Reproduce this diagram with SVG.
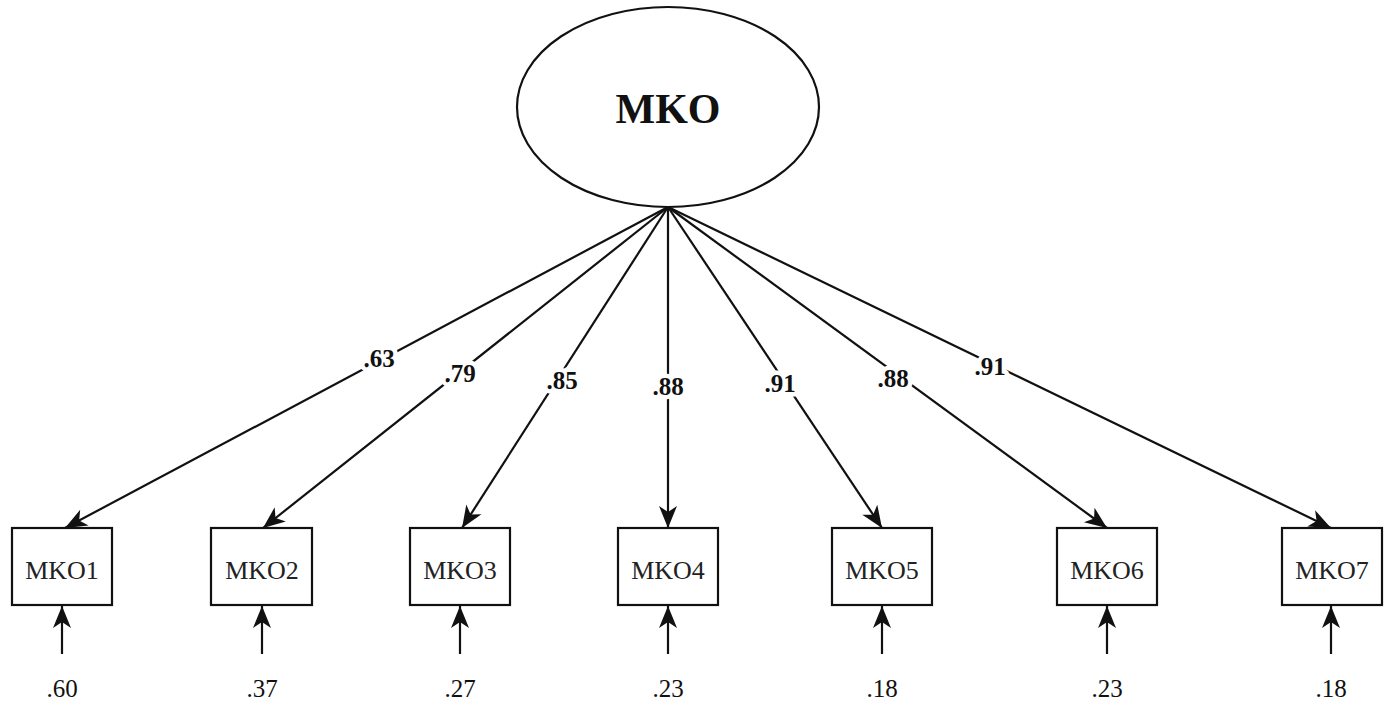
<svg xmlns="http://www.w3.org/2000/svg" width="1387" height="705" viewBox="0 0 1387 705">
<style>
.node{fill:#fff;stroke:#111;stroke-width:2.2}
.conn{stroke:#111;stroke-width:2.2;fill:none}
.lat{font-family:"Liberation Serif",serif;font-weight:bold;font-size:42px;fill:#111;text-anchor:middle}
.obs{font-family:"Liberation Serif",serif;font-size:26px;fill:#222;text-anchor:middle}
.load{font-family:"Liberation Serif",serif;font-weight:bold;font-size:25px;fill:#111;text-anchor:middle;stroke:#fff;stroke-width:9;paint-order:stroke;stroke-linejoin:round}
.err{font-family:"Liberation Serif",serif;font-size:25px;fill:#111;text-anchor:middle}
</style>
<defs>
<marker id="ah" markerUnits="userSpaceOnUse" viewBox="-1 -10 24 20" markerWidth="24" markerHeight="20" refX="22" refY="0" orient="auto">
<path d="M0,-9 L22,0 L0,9 L6,0 Z" fill="#111"/>
</marker>
</defs>
<rect width="1387" height="705" fill="#fff"/>
<g id="connectors">
<line class="conn" x1="668" y1="207" x2="65" y2="528" marker-end="url(#ah)"/>
<line class="conn" x1="668" y1="207" x2="263" y2="528" marker-end="url(#ah)"/>
<line class="conn" x1="668" y1="207" x2="462" y2="528" marker-end="url(#ah)"/>
<line class="conn" x1="668" y1="207" x2="668" y2="528" marker-end="url(#ah)"/>
<line class="conn" x1="668" y1="207" x2="882" y2="528" marker-end="url(#ah)"/>
<line class="conn" x1="668" y1="207" x2="1107" y2="528" marker-end="url(#ah)"/>
<line class="conn" x1="668" y1="207" x2="1331" y2="528" marker-end="url(#ah)"/>
<line class="conn" x1="62" y1="654" x2="62" y2="606" marker-end="url(#ah)"/>
<line class="conn" x1="262" y1="654" x2="262" y2="606" marker-end="url(#ah)"/>
<line class="conn" x1="460" y1="654" x2="460" y2="606" marker-end="url(#ah)"/>
<line class="conn" x1="668" y1="654" x2="668" y2="606" marker-end="url(#ah)"/>
<line class="conn" x1="882" y1="654" x2="882" y2="606" marker-end="url(#ah)"/>
<line class="conn" x1="1107" y1="654" x2="1107" y2="606" marker-end="url(#ah)"/>
<line class="conn" x1="1331" y1="654" x2="1331" y2="606" marker-end="url(#ah)"/>
<text class="load" x="379" y="367">.63</text>
<text class="load" x="460" y="382">.79</text>
<text class="load" x="562" y="389">.85</text>
<text class="load" x="668" y="395">.88</text>
<text class="load" x="780" y="392">.91</text>
<text class="load" x="893" y="387">.88</text>
<text class="load" x="990" y="375">.91</text>
</g>
<g id="MKO">
<ellipse class="node" cx="668" cy="107" rx="151" ry="100"/>
<text class="lat" x="668" y="123">MKO</text>
</g>
<g id="MKO1"><rect class="node" x="12" y="528" width="100" height="77"/><text class="obs" x="62" y="579">MKO1</text><text class="err" x="62" y="697">.60</text></g>
<g id="MKO2"><rect class="node" x="211" y="528" width="101" height="77"/><text class="obs" x="262" y="579">MKO2</text><text class="err" x="262" y="697">.37</text></g>
<g id="MKO3"><rect class="node" x="410" y="528" width="100" height="77"/><text class="obs" x="460" y="579">MKO3</text><text class="err" x="460" y="697">.27</text></g>
<g id="MKO4"><rect class="node" x="618" y="528" width="100" height="77"/><text class="obs" x="668" y="579">MKO4</text><text class="err" x="668" y="697">.23</text></g>
<g id="MKO5"><rect class="node" x="832" y="528" width="100" height="77"/><text class="obs" x="882" y="579">MKO5</text><text class="err" x="882" y="697">.18</text></g>
<g id="MKO6"><rect class="node" x="1057" y="528" width="100" height="77"/><text class="obs" x="1107" y="579">MKO6</text><text class="err" x="1107" y="697">.23</text></g>
<g id="MKO7"><rect class="node" x="1282" y="528" width="100" height="77"/><text class="obs" x="1332" y="579">MKO7</text><text class="err" x="1331" y="697">.18</text></g>
</svg>
